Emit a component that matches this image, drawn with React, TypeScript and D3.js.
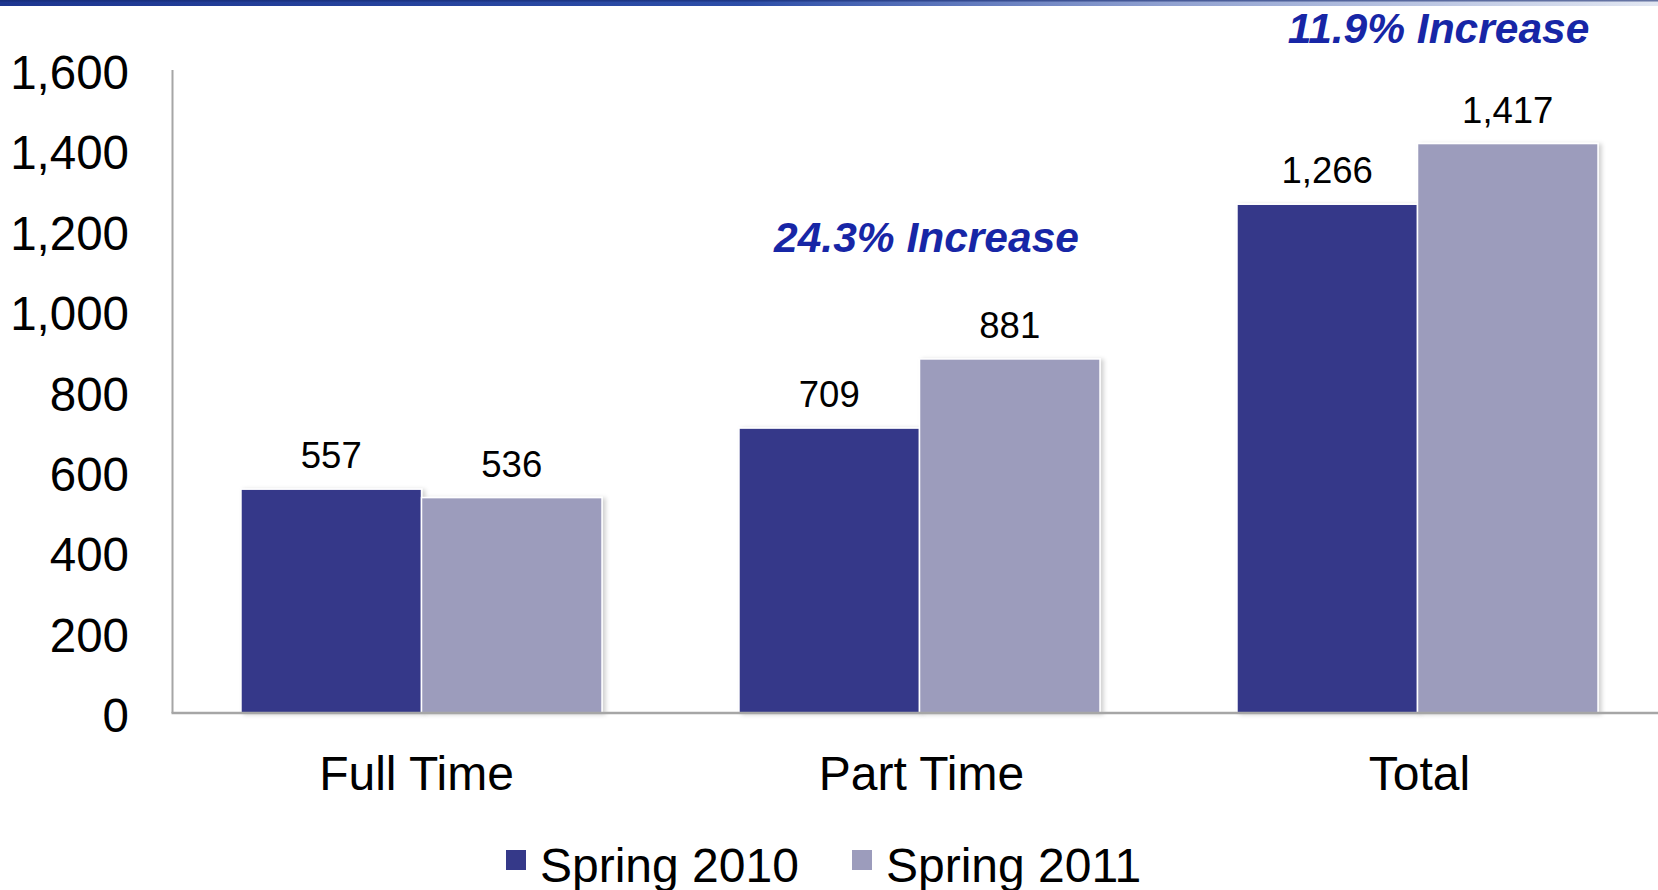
import React from "react";
import * as d3 from "d3";

// Enrollment headcount by attendance status
const categories = ["Full Time", "Part Time", "Total"];
const seriesNames = ["Spring 2010", "Spring 2011"];
const spring2010 = [557, 709, 1266];
const spring2011 = [536, 881, 1417];
const yTicks = [0, 200, 400, 600, 800, 1000, 1200, 1400, 1600];
const callouts = [
  { category: "Part Time", text: "24.3% Increase" },
  { category: "Total", text: "11.9% Increase" },
];

const W = 1658;
const H = 890;
const FONT = "'Liberation Sans', Arial, Helvetica, sans-serif";
const COLORS = ["#353989", "#9c9cbc"];

export default function App() {
  const x0 = d3
    .scaleBand<string>()
    .domain(categories)
    .range([172.5, 1666.5])
    .paddingInner(0.275)
    .paddingOuter(0.1375);
  const x1 = d3
    .scaleBand<string>()
    .domain(seriesNames)
    .range([0, x0.bandwidth()])
    .padding(0);
  const y = d3.scaleLinear().domain([0, 1600]).range([713, 70]);
  const fmt = d3.format(",");

  const values = [spring2010, spring2011];

  // callout placement: vertical baseline and slight horizontal nudge per group
  const calloutPos: Record<string, { dx: number; y: number }> = {
    "Part Time": { dx: 7, y: 252 },
    Total: { dx: 21, y: 43 },
  };

  return (
    <svg
      width={W}
      height={H}
      style={{ position: "absolute", left: 0, top: 0, background: "#fff" }}
    >
      <defs>
        <linearGradient id="topband" x1="0" x2="1" y1="0" y2="0">
          <stop offset="0" stopColor="#1d3690" />
          <stop offset="0.45" stopColor="#2d4ea8" />
          <stop offset="0.7" stopColor="#8fa0d0" />
          <stop offset="1" stopColor="#e2e7f2" />
        </linearGradient>
        <filter id="barShadow" x="-5%" y="-5%" width="115%" height="110%">
          <feDropShadow dx="3" dy="1" stdDeviation="2" floodColor="#000" floodOpacity="0.18" />
        </filter>
      </defs>

      {/* decorative header band */}
      <rect x={0} y={0} width={W} height={6} fill="url(#topband)" />
      <rect x={0} y={0} width={W} height={1.5} fill="#15296f" opacity={0.6} />

      {/* bars */}
      {categories.map((cat, ci) =>
        seriesNames.map((s, si) => {
          const v = values[si][ci];
          const bx = (x0(cat) as number) + (x1(s) as number);
          const bw = x1.bandwidth();
          return (
            <g key={cat + s}>
              <rect
                x={bx}
                y={y(v)}
                width={bw}
                height={y(0) - y(v)}
                fill={COLORS[si]}
                stroke="#ffffff"
                strokeWidth={1.5}
                filter="url(#barShadow)"
              />
              <text
                x={bx + bw / 2}
                y={y(v) - 21}
                textAnchor="middle"
                fontFamily={FONT}
                fontSize={36.5}
                fill="#000"
              >
                {fmt(v)}
              </text>
            </g>
          );
        })
      )}

      {/* axes */}
      <line x1={172.5} x2={172.5} y1={y(1600)} y2={y(0)} stroke="#a6a6a6" strokeWidth={2} />
      <line x1={171.5} x2={W} y1={y(0)} y2={y(0)} stroke="#a6a6a6" strokeWidth={2.5} />

      {yTicks.map((t) => (
        <text
          key={t}
          x={129}
          y={y(t) + 19}
          textAnchor="end"
          fontFamily={FONT}
          fontSize={47.5}
          fill="#000"
        >
          {fmt(t)}
        </text>
      ))}

      {categories.map((cat, i) => (
        <text
          key={cat}
          x={(x0(cat) as number) + x0.bandwidth() / 2 + [-5, 2, 2][i]}
          y={790}
          textAnchor="middle"
          fontFamily={FONT}
          fontSize={48}
          fill="#000"
        >
          {cat}
        </text>
      ))}

      {/* percentage change callouts */}
      {callouts.map((c) => (
        <text
          key={c.text}
          x={(x0(c.category) as number) + x0.bandwidth() / 2 + calloutPos[c.category].dx}
          y={calloutPos[c.category].y}
          textAnchor="middle"
          fontFamily={FONT}
          fontSize={42.5}
          fontWeight="bold"
          fontStyle="italic"
          fill="#1726a6"
        >
          {c.text}
        </text>
      ))}

      {/* legend */}
      {seriesNames.map((s, i) => {
        const lx = [506, 852][i];
        return (
          <g key={s}>
            <rect x={lx} y={850} width={20} height={20} fill={COLORS[i]} />
            <text x={lx + 34} y={882} fontFamily={FONT} fontSize={48} fill="#000">
              {s}
            </text>
          </g>
        );
      })}
    </svg>
  );
}
